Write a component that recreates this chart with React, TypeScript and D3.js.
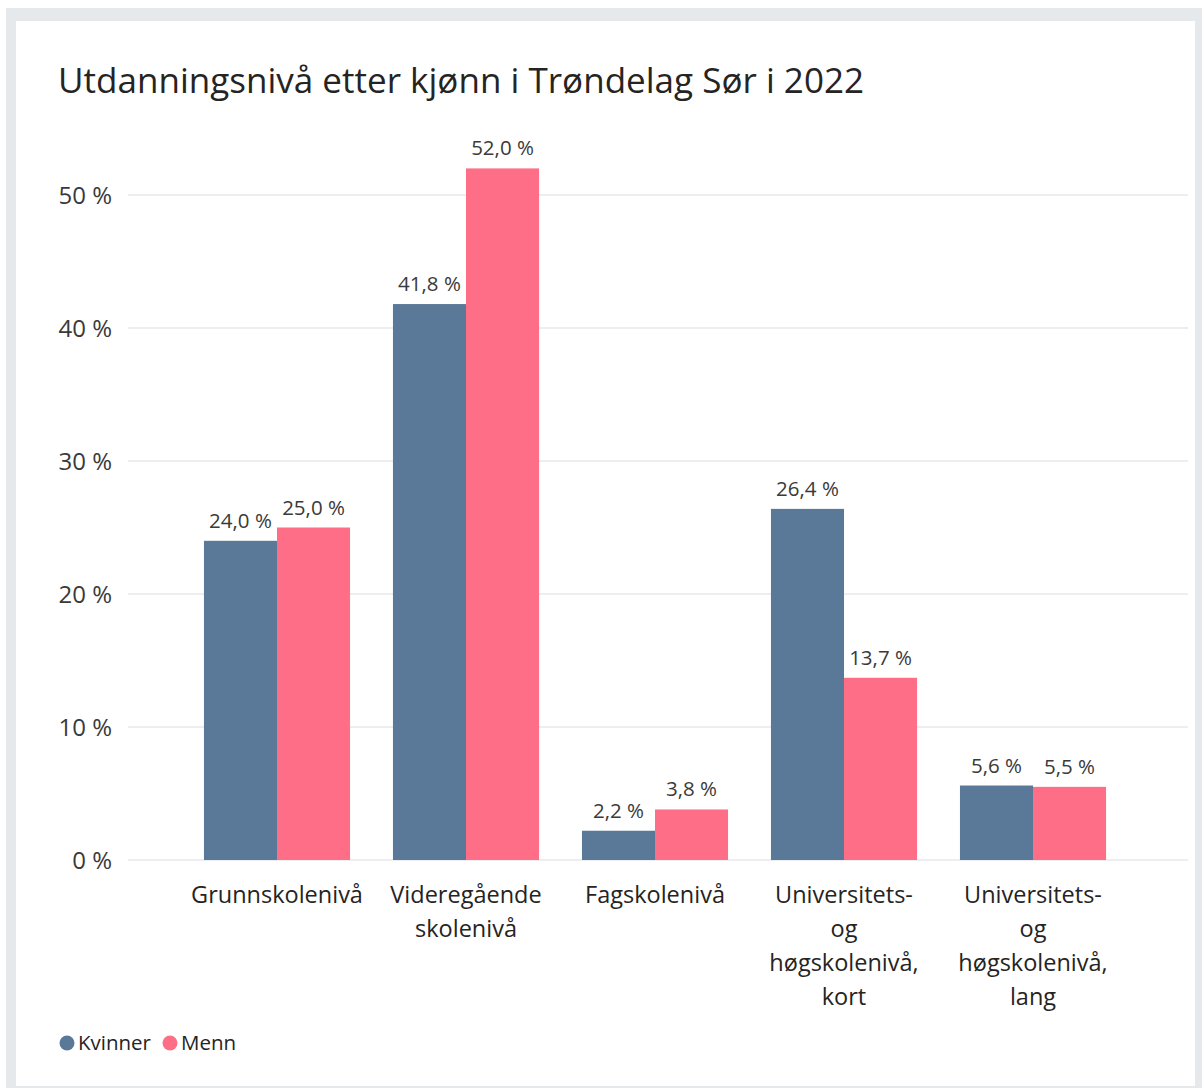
import React from "react";
import * as d3 from "d3";

const categories: string[][] = [
  ["Grunnskolenivå"],
  ["Videregående", "skolenivå"],
  ["Fagskolenivå"],
  ["Universitets-", "og", "høgskolenivå,", "kort"],
  ["Universitets-", "og", "høgskolenivå,", "lang"],
];
const seriesNames = ["Kvinner", "Menn"];
const kvinner = [24.0, 41.8, 2.2, 26.4, 5.6];
const menn = [25.0, 52.0, 3.8, 13.7, 5.5];
const yTicks = [0, 10, 20, 30, 40, 50];
const colors = ["#5a7897", "#fe6f87"];
const title = "Utdanningsnivå etter kjønn i Trøndelag Sør i 2022";

const W = 1202;
const H = 1088;
const FONT = "'Open Sans', 'Noto Sans', sans-serif";
const TEXT = "#252423";

export default function App() {
  const y = d3.scaleLinear().domain([0, 50]).range([860, 195]);
  const x = d3
    .scaleBand<number>()
    .domain(d3.range(categories.length))
    .range([182.5, 1127.5])
    .paddingInner(0.227)
    .paddingOuter(0.1135);
  const inner = d3
    .scaleBand<number>()
    .domain([0, 1])
    .range([0, x.bandwidth()]);
  const series = [kvinner, menn];
  const fmt = (v: number) => d3.format(".1f")(v).replace(".", ",") + " %";

  return (
    <svg
      width={W}
      height={H}
      style={{ position: "absolute", left: 0, top: 0, fontFamily: FONT }}
    >
      <rect x={6} y={8} width={W - 6} height={H - 8} fill="#e6e9ec" />
      <rect x={16} y={21} width={1179} height={1065} fill="#ffffff" />
      <text x={58} y={93} fontSize={35} fill={TEXT} textLength={806} lengthAdjust="spacingAndGlyphs">
        {title}
      </text>
      {yTicks.map((t) => (
        <g key={t}>
          <line
            x1={128}
            x2={1188}
            y1={y(t)}
            y2={y(t)}
            stroke="#e6e9ec"
            strokeWidth={1.5}
          />
          <text
            x={112}
            y={y(t) + 9}
            textAnchor="end"
            fontSize={24}
            fill="#3a3a3a"
          >
            {t} %
          </text>
        </g>
      ))}
      {series.map((vals, si) =>
        vals.map((v, i) => {
          const bx = (x(i) as number) + (inner(si) as number);
          const bw = inner.bandwidth();
          return (
            <g key={`${si}-${i}`}>
              <rect
                x={bx}
                y={y(v)}
                width={bw}
                height={y(0) - y(v)}
                fill={colors[si]}
              />
              <text
                x={bx + bw / 2}
                y={y(v) - 13}
                textAnchor="middle"
                fontSize={20.5}
                fill="#3a3a3a"
              >
                {fmt(v)}
              </text>
            </g>
          );
        })
      )}
      {categories.map((lines, i) => (
        <text
          key={i}
          x={(x(i) as number) + x.bandwidth() / 2}
          y={903}
          textAnchor="middle"
          fontSize={23.5}
          fill={TEXT}
        >
          {lines.map((l, li) => (
            <tspan key={li} x={(x(i) as number) + x.bandwidth() / 2} dy={li === 0 ? 0 : 34}>
              {l}
            </tspan>
          ))}
        </text>
      ))}
      {seriesNames.map((name, si) => {
        const lx = si === 0 ? 67 : 170;
        return (
          <g key={name}>
            <circle cx={lx} cy={1043} r={7.5} fill={colors[si]} />
            <text x={lx + 11} y={1050} fontSize={20.5} fill={TEXT}>
              {name}
            </text>
          </g>
        );
      })}
    </svg>
  );
}
